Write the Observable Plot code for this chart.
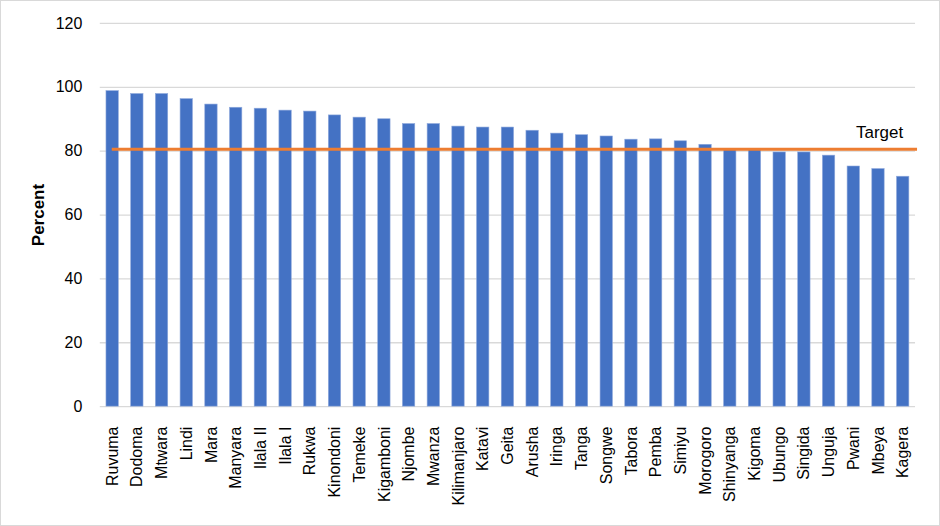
<!DOCTYPE html>
<html>
<head>
<meta charset="utf-8">
<script src="https://cdn.jsdelivr.net/npm/d3@7"></script>
<script src="https://cdn.jsdelivr.net/npm/@observablehq/plot@0.6"></script>
<style>
  html, body { margin: 0; padding: 0; background: #fff; }
  #chart { width: 938px; height: 524px; border: 1px solid #d9d9d9; overflow: hidden; position: relative; }
  #chart svg { position: absolute; left: -1px; top: -1px; }
  #chart svg text { font-size: 16px !important; font-family: 'Liberation Sans', Arial, sans-serif !important; fill: #000; }
  #chart svg text.ylab { font-size: 17px !important; font-weight: bold; }
  #chart svg text.tlab { font-size: 17px !important; }
</style>
</head>
<body>
<div id="chart"></div>
<script>
const regions = ["Ruvuma","Dodoma","Mtwara","Lindi","Mara","Manyara","Ilala II","Ilala I","Rukwa","Kinondoni","Temeke","Kigamboni","Njombe","Mwanza","Kilimanjaro","Katavi","Geita","Arusha","Iringa","Tanga","Songwe","Tabora","Pemba","Simiyu","Morogoro","Shinyanga","Kigoma","Ubungo","Singida","Unguja","Pwani","Mbeya","Kagera"];
const percent = [98.8,97.9,97.9,96.3,94.6,93.6,93.3,92.7,92.4,91.2,90.5,90.0,88.5,88.5,87.7,87.4,87.4,86.4,85.5,85.0,84.6,83.6,83.7,83.1,82.0,80.4,80.4,79.6,79.6,78.6,75.2,74.4,72.0];
const target = 80.6;
const targetLabel = "Target";
const yTicks = [0,20,40,60,80,100,120];

const data = regions.map((r, i) => ({region: r, value: percent[i]}));

const chart = Plot.plot({
  width: 940,
  height: 526,
  marginLeft: 100,
  marginRight: 23,
  marginTop: 23,
  marginBottom: 119,
  style: {fontFamily: "'Liberation Sans', Arial, sans-serif", fontSize: "16px", color: "#000", background: "transparent"},
  x: {domain: regions, paddingInner: 0.5, paddingOuter: 0.25, round: false, label: null},
  y: {domain: [0, 120], label: null},
  marks: [
    Plot.ruleY(yTicks, {stroke: "#d9d9d9", strokeWidth: 1.3}),
    Plot.barY(data, {x: "region", y: "value", fill: "#4472c4", stroke: "#8fa9dc", strokeWidth: 0.6}),
    Plot.ruleY([target], {stroke: "#ed7d31", strokeWidth: 3, insetLeft: 12, insetRight: -2}),
    Plot.text([target], {x: () => regions[regions.length - 1], y: d => d, text: () => targetLabel, textAnchor: "end", dy: -17, dx: 0, fill: "#000", className: "tlabmark"}),
    Plot.axisY({ticks: yTicks, tickSize: 0, tickPadding: 18, label: "Percent", labelAnchor: "center", labelArrow: "none", labelOffset: 68}),
    Plot.axisX({tickSize: 0, tickPadding: 20, tickRotate: -90, label: null})
  ]
});
document.getElementById("chart").appendChild(chart);
chart.querySelectorAll("text").forEach(t => {
  if (t.textContent === "Percent") t.classList.add("ylab");
  if (t.textContent === targetLabel) t.classList.add("tlab");
});
</script>
</body>
</html>
